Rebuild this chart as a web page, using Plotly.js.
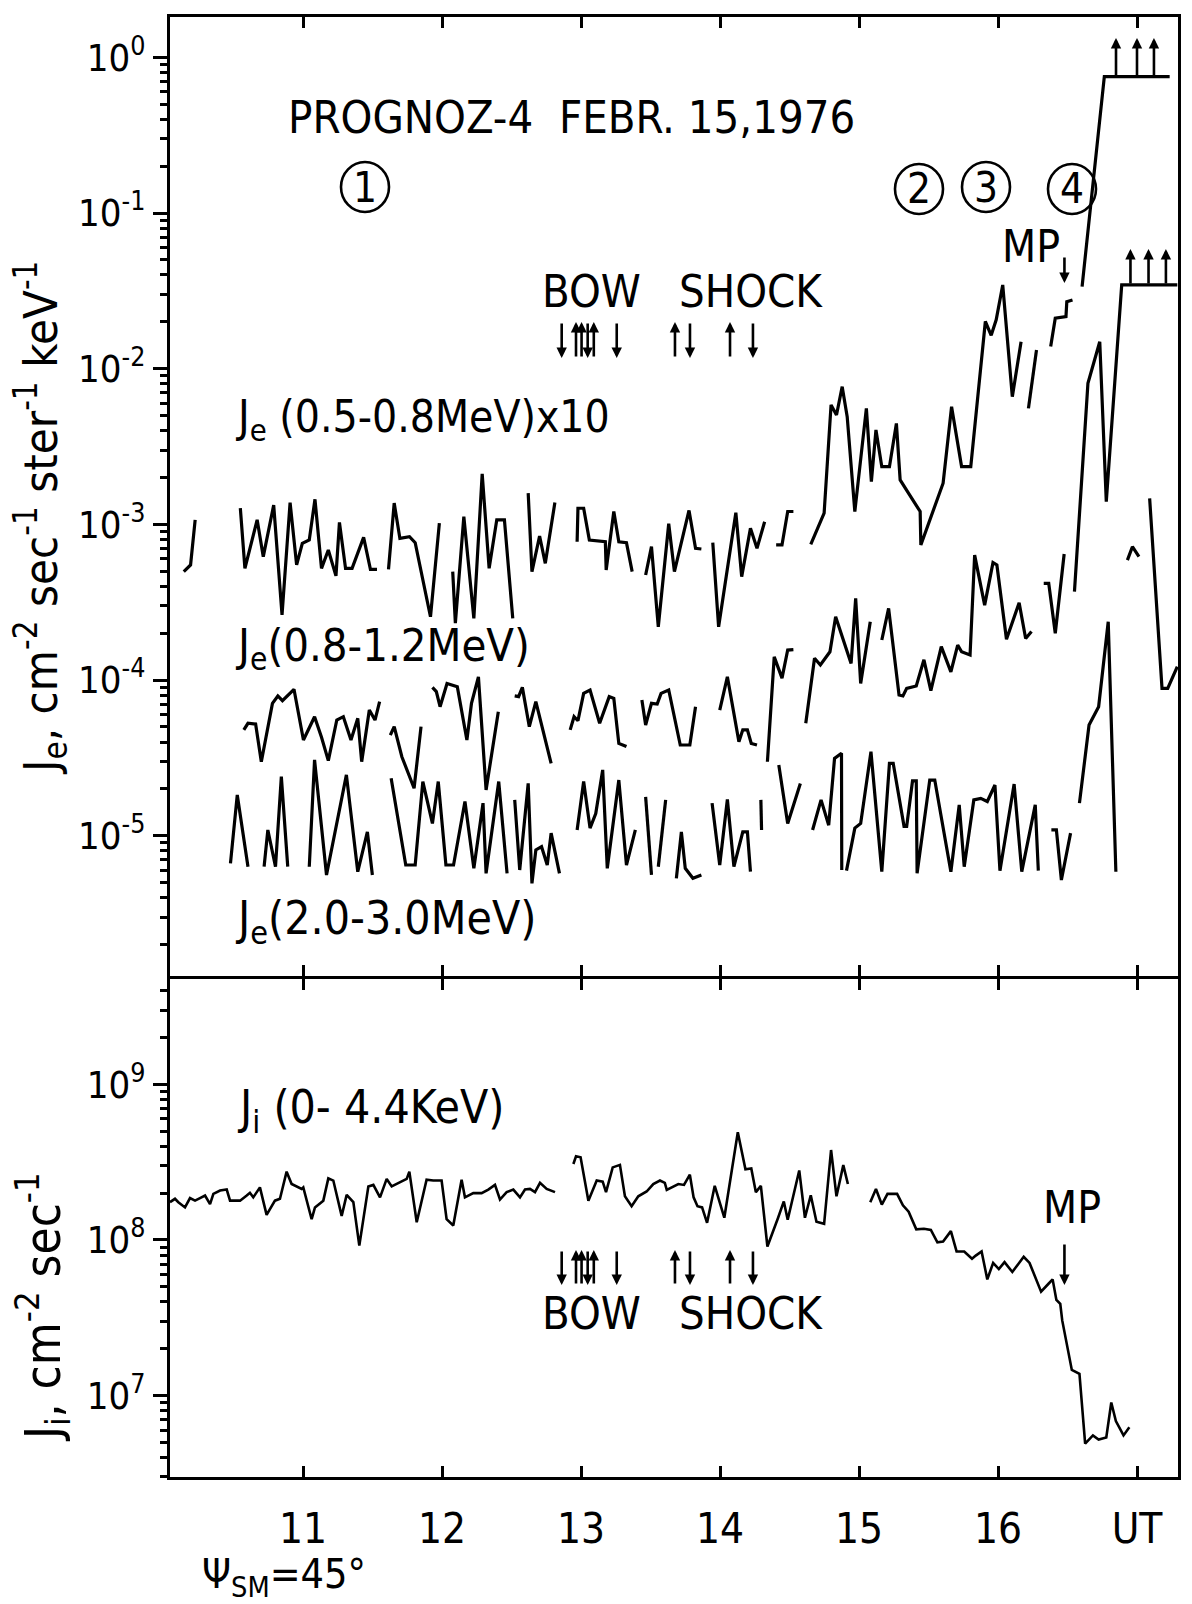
<!DOCTYPE html>
<html><head><meta charset="utf-8">
<script src="https://cdn.plot.ly/plotly-3.0.1.min.js"></script>
<style>html,body{margin:0;padding:0;background:#fff}</style>
</head><body><div id="plot" style="width:1192px;height:1604px"></div>
<script>
// ---- data (UT hours / fluxes; null = data gap) ----
const hA = [10.142,10.191,10.224,null,
10.549,10.582,10.670,10.714,10.789,10.849,10.907,10.954,10.995,11.045,11.086,11.133,11.182,11.237,11.262,11.306,11.353,11.436,11.485,11.532,null,
11.615,11.656,11.697,11.766,11.807,11.917,11.981,null,
12.077,12.096,12.157,12.229,12.289,12.339,12.394,12.449,12.509,null,
12.620,12.647,12.702,12.743,12.812,null,
12.972,12.978,13.019,13.060,13.175,13.181,13.236,13.272,13.327,13.368,null,
13.465,13.507,13.556,13.631,13.672,13.777,13.824,13.866,null,
13.948,13.990,14.114,14.156,14.219,14.266,14.321,null,
14.404,14.446,14.487,14.528,null,
14.653,14.749,14.799,14.838,14.879,14.915,14.970,15.053,15.089,15.122,15.164,15.219,15.269,15.296,15.357,15.440,15.445,15.605,15.666,15.738,15.804,15.909,15.951,15.987,16.034,16.103,16.166,null,
16.219,16.277,null,
16.379,16.412,16.489,16.495,16.536,null,
16.605,16.765,17.235];
const vA = [4.97e-4,5.49e-4,1.07e-3,null,
1.27e-3,5.22e-4,1.07e-3,6.21e-4,1.33e-3,2.62e-4,1.38e-3,5.49e-4,7.55e-4,7.94e-4,1.45e-3,5.22e-4,6.85e-4,4.67e-4,1.03e-3,5.22e-4,5.22e-4,8.26e-4,5.14e-4,5.14e-4,null,
5.14e-4,1.37e-3,8.13e-4,8.33e-4,7.63e-4,2.55e-4,1.02e-3,null,
4.97e-4,2.32e-4,1.12e-3,2.49e-4,2.11e-3,5.22e-4,1.07e-3,1.07e-3,2.49e-4,null,
1.59e-3,4.97e-4,8.42e-4,5.62e-4,1.38e-3,null,
7.74e-4,1.27e-3,1.27e-3,7.94e-4,7.74e-4,5.10e-4,1.21e-3,7.74e-4,7.63e-4,4.97e-4,null,
4.73e-4,7.20e-4,2.20e-4,1.01e-3,4.97e-4,1.23e-3,7.02e-4,6.95e-4,null,
7.63e-4,2.20e-4,1.19e-3,4.62e-4,9.44e-4,7.02e-4,1.04e-3,null,
7.38e-4,7.38e-4,1.21e-3,1.21e-3,null,
7.45e-4,1.18e-3,5.85e-3,5.04e-3,7.67e-3,4.92e-3,1.21e-3,5.56e-3,1.88e-3,4.04e-3,2.35e-3,2.35e-3,4.45e-3,1.93e-3,1.58e-3,1.21e-3,7.38e-4,1.84e-3,5.70e-3,2.35e-3,2.35e-3,2.01e-2,1.64e-2,2.06e-2,3.45e-2,6.61e-3,1.49e-2,null,
5.56e-3,1.32e-2,null,
1.39e-2,2.11e-2,2.16e-2,2.69e-2,2.76e-2,null,
3.37e-2,0.752,0.752];

const hB = [10.574,10.604,10.659,10.700,10.780,10.819,10.852,10.935,11.003,11.083,11.133,11.182,11.243,11.290,11.345,11.394,11.422,11.477,11.518,11.551,null,
11.628,11.656,11.711,11.799,11.849,null,
11.931,11.959,11.986,12.036,12.110,12.179,12.212,12.262,12.317,12.405,null,
12.523,12.551,12.578,12.628,12.675,12.785,null,
12.922,12.950,12.978,13.019,13.065,13.134,13.203,13.236,13.272,13.327,null,
13.438,13.465,13.507,13.548,13.576,13.631,13.714,13.783,13.824,null,
13.998,14.053,14.136,14.164,14.197,14.225,14.266,null,
14.341,14.390,14.446,14.487,14.528,null,
14.617,14.680,14.722,14.791,14.832,14.943,14.976,15.012,15.081,null,
15.164,15.213,15.288,15.316,15.343,15.412,15.467,15.517,15.592,15.661,15.710,15.738,15.799,15.832,15.904,15.964,15.992,16.061,16.152,16.199,16.241,null,
16.329,16.365,16.412,16.476,null,
16.550,16.647,16.732,16.779,16.890,17.29];
const vB = [4.79e-5,5.28e-5,5.22e-5,2.99e-5,7.09e-5,7.91e-5,7.38e-5,8.73e-5,4.12e-5,5.82e-5,4.29e-5,3.04e-5,5.54e-5,5.82e-5,4.12e-5,5.68e-5,2.99e-5,6.42e-5,5.54e-5,7.27e-5,null,
4.43e-5,5.02e-5,3.22e-5,2.02e-5,5.02e-5,null,
8.98e-5,8.43e-5,6.75e-5,9.52e-5,9.07e-5,4.12e-5,7.09e-5,1.05e-4,1.97e-5,6.27e-5,null,
7.91e-5,7.83e-5,8.98e-5,5.02e-5,7.27e-5,2.92e-5,null,
4.79e-5,5.82e-5,5.48e-5,8.22e-5,8.64e-5,5.28e-5,7.83e-5,7.64e-5,3.92e-5,3.74e-5,null,
7.45e-5,5.15e-5,7.09e-5,7.02e-5,8.22e-5,8.64e-5,3.83e-5,3.83e-5,6.75e-5,null,
6.42e-5,1.05e-4,4.02e-5,4.79e-5,4.79e-5,3.92e-5,3.83e-5,null,
2.99e-5,1.41e-4,1.03e-4,1.56e-4,1.57e-4,null,
5.28e-5,1.38e-4,1.25e-4,1.52e-4,2.55e-4,1.28e-4,3.35e-4,9.52e-5,2.37e-4,null,
1.81e-4,2.89e-4,8.02e-5,7.91e-5,8.85e-5,9.16e-5,1.35e-4,8.55e-5,1.64e-4,1.13e-4,1.68e-4,1.52e-4,1.45e-4,6.35e-4,3.03e-4,5.68e-4,5.49e-4,1.83e-4,3.14e-4,1.85e-4,2.05e-4,null,
4.18e-4,4.18e-4,2.00e-4,6.45e-4,null,
3.70e-4,8.05e-3,1.49e-2,1.40e-3,3.45e-2,3.45e-2];

const hC = [10.478,10.527,10.604,null,
10.720,10.747,10.802,10.844,10.890,null,
11.045,11.083,11.169,11.312,11.394,11.463,11.499,null,
11.634,11.739,11.807,11.862,11.931,11.973,12.028,12.083,12.165,12.229,12.295,12.317,12.408,12.468,null,
12.523,12.559,12.620,12.647,12.675,12.716,12.757,12.785,12.845,null,
12.972,13.019,13.065,13.106,13.156,13.189,13.272,13.327,13.391,null,
13.465,13.507,null,
13.556,13.609,null,
13.686,13.722,13.750,13.805,13.866,null,
13.943,13.998,14.053,14.100,14.164,14.197,14.219,null,
14.294,14.299,null,
14.423,14.487,14.578,null,
14.666,14.727,14.782,14.824,14.874,14.876,null,
14.910,14.970,15.012,15.086,15.164,15.219,15.246,15.324,15.343,15.385,15.412,15.418,15.509,15.545,15.661,15.721,15.757,15.826,15.876,15.923,15.978,16.014,16.116,16.171,16.268,16.290,null,
16.384,16.420,16.456,16.522,null,
16.586,16.655,16.724,16.793,16.848,null,
16.931,16.967,17.014,null,
17.091,17.180,17.221,17.290];
const vC = [6.65e-6,1.83e-5,6.33e-6,null,
6.33e-6,1.09e-5,6.33e-6,2.40e-5,6.33e-6,null,
6.33e-6,3.07e-5,5.60e-6,2.46e-5,5.88e-6,1.06e-5,5.60e-6,null,
2.34e-5,6.49e-6,6.49e-6,2.23e-5,1.20e-5,2.23e-5,6.49e-6,6.49e-6,1.66e-5,6.18e-6,1.62e-5,5.74e-6,2.23e-5,5.74e-6,null,
1.70e-5,6.03e-6,2.17e-5,4.95e-6,8.11e-6,8.51e-6,6.49e-6,1.04e-5,5.74e-6,null,
1.09e-5,2.23e-5,1.12e-5,1.39e-5,2.65e-5,6.18e-6,2.28e-5,6.49e-6,1.09e-5,null,
1.78e-5,5.60e-6,null,
6.33e-6,1.70e-5,null,
5.33e-6,1.06e-5,6.18e-6,5.33e-6,5.60e-6,null,
1.62e-5,6.49e-6,1.71e-5,6.33e-6,1.06e-5,1.06e-5,5.88e-6,null,
1.70e-5,1.09e-5,null,
2.85e-5,1.20e-5,2.17e-5,null,
1.09e-5,1.70e-5,1.17e-5,3.14e-5,3.39e-5,6.03e-6,null,
5.97e-6,1.12e-5,1.20e-5,3.47e-5,5.88e-6,2.92e-5,2.92e-5,1.15e-5,1.15e-5,2.25e-5,2.25e-5,5.74e-6,2.28e-5,2.28e-5,5.88e-6,1.58e-5,6.33e-6,1.70e-5,1.74e-5,1.66e-5,2.12e-5,5.97e-6,2.15e-5,5.88e-6,1.58e-5,5.97e-6,null,
1.09e-5,1.09e-5,5.20e-6,1.04e-5,null,
1.62e-5,5.15e-5,6.75e-5,2.37e-4,5.88e-6,null,
5.90e-4,7.19e-4,6.21e-4,null,
1.47e-3,8.85e-5,8.85e-5,1.22e-4];

const hI = [10.043,10.079,10.103,10.151,10.187,10.223,10.259,10.295,10.331,10.355,10.403,10.451,10.475,10.547,10.595,10.618,10.642,10.690,10.738,10.798,10.834,10.882,10.918,10.954,10.990,11.002,11.062,11.086,11.146,11.182,11.218,11.278,11.314,11.362,11.405,11.470,11.506,11.554,11.602,11.638,11.698,11.746,11.765,11.818,11.889,11.937,11.997,12.033,12.081,12.141,12.165,12.225,12.285,12.333,12.381,12.417,12.465,12.513,12.561,12.597,12.633,12.669,12.705,12.753,12.813,null,
12.945,12.964,12.997,13.053,13.113,13.156,13.180,13.228,13.280,13.316,13.364,13.412,13.472,13.520,13.568,13.603,13.617,13.672,13.700,13.741,13.783,13.810,13.838,13.871,13.907,13.962,14.031,14.128,14.183,14.225,14.258,14.294,14.341,14.418,14.459,14.487,14.570,14.611,14.653,14.694,14.749,14.799,14.838,14.887,14.920,null,
15.081,15.122,15.164,15.205,15.274,15.316,15.357,15.412,15.467,15.517,15.564,15.605,15.661,15.702,15.757,15.813,15.840,15.882,15.923,15.965,16.006,16.047,16.103,16.185,16.227,16.310,16.365,16.393,16.420,16.448,16.462,16.531,16.586,16.627,16.683,16.724,16.779,16.815,16.848,16.903,16.945];
const vI = [1.75e8,1.84e8,1.75e8,1.62e8,1.86e8,1.79e8,1.86e8,1.93e8,1.70e8,1.98e8,2.08e8,2.11e8,1.79e8,1.79e8,1.93e8,2.01e8,1.88e8,2.18e8,1.45e8,1.79e8,1.84e8,2.75e8,2.29e8,2.21e8,2.13e8,2.18e8,1.36e8,1.62e8,1.79e8,2.49e8,2.41e8,1.43e8,1.95e8,1.75e8,9.2e7,2.21e8,2.26e8,1.88e8,2.47e8,2.21e8,2.35e8,2.47e8,2.75e8,1.30e8,2.44e8,2.41e8,2.41e8,1.36e8,1.24e8,2.44e8,1.88e8,2.00e8,2.00e8,2.11e8,2.26e8,1.82e8,2.03e8,2.11e8,1.88e8,2.11e8,2.13e8,2.03e8,2.33e8,2.13e8,2.03e8,null,
3.08e8,3.45e8,3.40e8,1.79e8,2.41e8,2.37e8,2.03e8,2.93e8,3.04e8,1.91e8,1.65e8,1.91e8,2.05e8,2.29e8,2.41e8,2.33e8,2.10e8,2.22e8,2.29e8,2.26e8,2.63e8,1.88e8,1.65e8,1.62e8,1.29e8,2.23e8,1.39e8,4.93e8,2.85e8,2.88e8,2.03e8,2.23e8,9.08e7,1.39e8,1.77e8,1.35e8,2.80e8,1.39e8,1.94e8,1.31e8,1.27e8,3.79e8,1.91e8,3.03e8,2.29e8,null,
1.75e8,2.13e8,1.69e8,1.98e8,1.98e8,1.67e8,1.52e8,1.17e8,1.18e8,1.16e8,9.65e7,9.77e7,1.14e8,8.44e7,8.44e7,7.57e7,7.94e7,8.44e7,5.58e7,7.12e7,6.50e7,7.21e7,6.23e7,7.80e7,7.12e7,4.65e7,5.25e7,5.58e7,4.12e7,3.88e7,3.04e7,1.46e7,1.38e7,4.90e6,5.54e6,5.21e6,5.37e6,9.01e6,6.85e6,5.54e6,6.25e6];

// axis ticks / labels
const hourTicks = [11,12,13,14,15,16,17];
const hourLabels = ['11','12','13','14','15','16','UT'];
const topDecades = [1e-6,1e-5,1e-4,1e-3,1e-2,1e-1,1];
const topDecadeLabels = ['10<sup>-6</sup>','10<sup>-5</sup>','10<sup>-4</sup>','10<sup>-3</sup>','10<sup>-2</sup>','10<sup>-1</sup>','10<sup>0</sup>'];
const botDecades = [1e6,1e7,1e8,1e9];
const botDecadeLabels = ['10<sup>6</sup>','10<sup>7</sup>','10<sup>8</sup>','10<sup>9</sup>'];
// event markers (UT)
const bowTimes = [12.861,12.964,13.004,13.048,13.092,13.257,13.676,13.784,14.072,14.237];
const bowDirs  = ['d','u','u','d','u','d','u','d','u','d'];
const mpTime = 16.478;
const satArrowsA = [16.849,17.0,17.122];
const satArrowsB = [16.953,17.083,17.208];

// ---- layout helpers ----
const FONT = "'DejaVu Sans Condensed','DejaVu Sans',sans-serif";
const L=170, R=1178, T=17, B=1477, DIV=977;
const PW=R-L, PH=B-T;
const px = x => (x-L)/PW, py = y => (B-y)/PH;
function minorVals(decs){const o=[];decs.forEach(d=>{for(let m=2;m<=9;m++)o.push(m*d);});return o;}

const ann = [];
function txt(t,x,y,size,xa){ann.push({text:t,xref:'paper',yref:'paper',x:px(x),y:py(y),xanchor:xa||'center',yanchor:'middle',showarrow:false,font:{family:FONT,size:size,color:'black'}});}
function arrow(h,yHead,yTail){ann.push({text:'',xref:'x',yref:'paper',x:h,y:py(yHead),axref:'pixel',ayref:'pixel',ax:0,ay:(yTail-yHead),showarrow:true,arrowhead:2,arrowsize:0.8,arrowwidth:2.6,arrowcolor:'black',standoff:0,startstandoff:0});}

txt('PROGNOZ-4  FEBR. 15,1976',286,118,45,'left');
txt('BOW',591,292,45); txt('SHOCK',751,292,45);
txt('MP',1031,246,44);
txt('J<sub>e</sub> (0.5-0.8MeV)x10',233,420,44,'left');
txt('J<sub>e</sub>(0.8-1.2MeV)',233,648,45,'left');
txt('J<sub>e</sub>(2.0-3.0MeV)',233,921,46,'left');
txt('J<sub>i</sub> (0- 4.4KeV)',235,1110,46,'left');
txt('BOW',591,1313,45); txt('SHOCK',751,1313,45);
txt('MP',1072,1207,44);
txt('Ψ<sub>SM</sub>=45°',200,1577,41,'left');
const circles=[[365,187,'1'],[919,189,'2'],[986,187,'3'],[1072,189,'4']];
circles.forEach(c=>txt(c[2],c[0],c[1],42));
ann.push({text:'J<sub>e</sub>, cm<sup>-2</sup> sec<sup>-1</sup> ster<sup>-1</sup> keV<sup>-1</sup>',xref:'paper',yref:'paper',x:px(40),y:py(518),textangle:-90,showarrow:false,xanchor:'center',yanchor:'middle',font:{family:FONT,size:47,color:'black'}});
ann.push({text:'J<sub>i</sub>, cm<sup>-2</sup> sec<sup>-1</sup>',xref:'paper',yref:'paper',x:px(42),y:py(1307),textangle:-90,showarrow:false,xanchor:'center',yanchor:'middle',font:{family:FONT,size:49,color:'black'}});

bowTimes.forEach((t,i)=>{
  if(bowDirs[i]==='d'){arrow(t,358,322);arrow(t,1285,1250);}
  else{arrow(t,322,358);arrow(t,1250,1285);}
});
arrow(mpTime,283,256); arrow(mpTime,1285,1243);
satArrowsA.forEach(t=>arrow(t,38,77));
satArrowsB.forEach(t=>arrow(t,249,285));

const shapes = circles.map(c=>({type:'circle',xref:'paper',yref:'paper',xsizemode:'pixel',ysizemode:'pixel',xanchor:px(c[0]),yanchor:py(c[1]),x0:-24,x1:24,y0:-25,y1:25,line:{color:'black',width:2.6}}));

const xr=[10.043,17.295];
const xcommon={range:xr,tickmode:'array',tickvals:hourTicks,ticks:'inside',ticklen:11,tickwidth:3,tickcolor:'black',showline:true,linewidth:3,linecolor:'black',mirror:'ticks',showgrid:false,zeroline:false,automargin:false,fixedrange:true};
const ycommon={type:'log',tickmode:'array',ticks:'outside',ticklen:14,tickwidth:3,tickcolor:'black',showline:true,linewidth:3,linecolor:'black',mirror:true,showgrid:false,zeroline:false,automargin:false,tickfont:{family:FONT,size:38,color:'black'}};

const traceStyle={mode:'lines',line:{color:'black',width:3.2},connectgaps:false,hoverinfo:'skip'};
const data=[
 Object.assign({x:hA,y:vA,xaxis:'x2',yaxis:'y2',name:'Je 0.5-0.8 MeV x10'},traceStyle),
 Object.assign({x:hB,y:vB,xaxis:'x2',yaxis:'y2',name:'Je 0.8-1.2 MeV'},traceStyle),
 Object.assign({x:hC,y:vC,xaxis:'x2',yaxis:'y2',name:'Je 2.0-3.0 MeV'},traceStyle),
 {x:hI,y:vI,xaxis:'x',yaxis:'y',mode:'lines',line:{color:'black',width:2.6},connectgaps:false,hoverinfo:'skip',name:'Ji 0-4.4 keV'}
];

// panels separated by one line width so the two frame lines (drawn outside each panel) coincide on the divider
const dBot=(B-DIV-1.5)/PH, dTop=(B-DIV+1.5)/PH;
const layout={
 width:1192,height:1604,
 margin:{l:L,r:1192-R,t:T,b:1604-B,pad:0},
 paper_bgcolor:'white',plot_bgcolor:'rgba(0,0,0,0)',showlegend:false,
 font:{family:FONT,color:'black'},
 xaxis:Object.assign({},xcommon,{anchor:'y',ticktext:hourLabels,tickfont:{family:FONT,size:42,color:'black'},ticklabelstandoff:13}),
 xaxis2:Object.assign({},xcommon,{anchor:'y2',matches:'x',showticklabels:false}),
 yaxis:Object.assign({},ycommon,{domain:[0,dBot],range:[6.476,9.691-1.5/155.5],tickvals:botDecades,ticktext:botDecadeLabels,
   minor:{tickmode:'array',tickvals:minorVals(botDecades),ticks:'outside',ticklen:7,tickwidth:3,tickcolor:'black',showgrid:false}}),
 yaxis2:Object.assign({},ycommon,{domain:[dTop,1],range:[-5.907+1.5/155.7,0.259],tickvals:topDecades,ticktext:topDecadeLabels,
   minor:{tickmode:'array',tickvals:minorVals(topDecades),ticks:'outside',ticklen:7,tickwidth:3,tickcolor:'black',showgrid:false}}),
 annotations:ann,shapes:shapes
};
Plotly.newPlot('plot',data,layout,{staticPlot:true,displayModeBar:false});
</script></body></html>
